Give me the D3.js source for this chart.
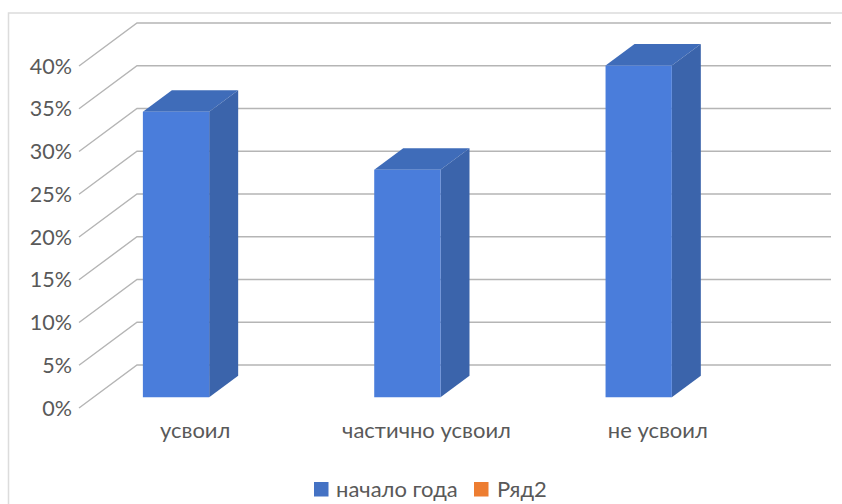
<!DOCTYPE html>
<html><head><meta charset="utf-8">
<script src="https://cdn.jsdelivr.net/npm/d3@7"></script>
<style>html,body{margin:0;padding:0;background:#fff}svg{display:block}text{font-family:Lato,sans-serif;fill:#595959}</style>
</head><body><svg id="c" width="842" height="504"></svg>
<script>
const categories = ["усвоил", "частично усвоил", "не усвоил"];
const seriesNames = ["начало года", "Ряд2"];
const seriesColors = ["#4472c4", "#ed7d31"];
const values1 = [33.4, 26.6, 38.8];
const values2 = [null, null, null];
const yTicks = [0, 5, 10, 15, 20, 25, 30, 35, 40];

const svg = d3.select("#c");
const x = d3.scaleBand().domain(categories).range([79, 773]);
const inner = d3.scaleBand().domain([0, 1]).range([0, x.bandwidth()]).paddingInner(0).paddingOuter(0.745);
const y = d3.scaleLinear().domain([0, 40]).range([408, 66]);
const DX = 58, DY = -43, Z0 = 0.25, Z1 = 0.75;
const P = (px, v, z) => [px + DX * z, y(v) + DY * z];
const path = pts => "M" + pts.map(p => p.join(",")).join("L") + "Z";

// chart frame
svg.append("path").attr("d", "M8.5,504V13H842").attr("fill", "none").attr("stroke", "#dcdcdc").attr("stroke-width", 1.5);

// grid: side wall + back wall
const grid = svg.append("g").attr("fill", "none").attr("stroke", "#b5b5b5").attr("stroke-width", 1.4);
yTicks.forEach(t => {
  const a = P(79, t, 0), b = P(79, t, 1), c = P(773, t, 1);
  grid.append("polyline").attr("points", [a, b, c].map(p => p.join(",")).join(" "));
});

// axis labels
svg.append("g").selectAll("text").data(yTicks).join("text")
  .attr("x", 72).attr("y", d => y(d) + 7.5).attr("text-anchor", "end")
  .attr("font-size", 21.5).text(d => d + "%");

// bars (series 1 only has values)
const w = inner.bandwidth();
const bars = svg.append("g");
categories.forEach((cat, i) => {
  const v = values1[i];
  if (v == null) return;
  const l = x(cat) + inner(0), r = l + w;
  bars.append("path").attr("d", path([P(l, v, Z0), P(l, v, Z1), P(r, v, Z1), P(r, v, Z0)])).attr("fill", "#3f6cb9");
  bars.append("path").attr("d", path([P(r, 0, Z0), P(r, 0, Z1), P(r, v, Z1), P(r, v, Z0)])).attr("fill", "#3b64ab");
  bars.append("path").attr("d", path([P(l, 0, Z0), P(r, 0, Z0), P(r, v, Z0), P(l, v, Z0)])).attr("fill", "#4a7ddb");
});

// category labels
svg.append("g").selectAll("text").data(categories).join("text")
  .attr("x", d => x(d) + x.bandwidth() / 2 + 0.5).attr("y", 438).attr("text-anchor", "middle")
  .attr("font-size", 22).text(d => d);

// legend
const legendX = [314, 474], legendText = [336, 497];
const lg = svg.append("g");
seriesNames.forEach((n, i) => {
  lg.append("rect").attr("x", legendX[i]).attr("y", 482).attr("width", 14.5).attr("height", 14.5).attr("fill", seriesColors[i]);
  lg.append("text").attr("x", legendText[i]).attr("y", 497).attr("font-size", 22).text(n);
});
</script></body></html>
